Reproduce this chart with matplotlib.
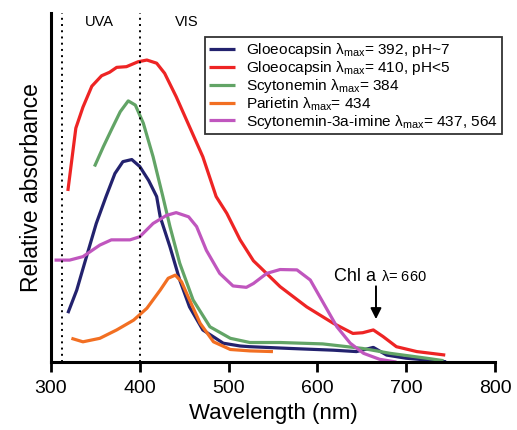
import matplotlib
matplotlib.use("Agg")
import matplotlib.pyplot as plt

plt.rcParams['font.family'] = ['Liberation Sans', 'DejaVu Sans']
plt.rcParams['mathtext.fontset'] = 'custom'
plt.rcParams['mathtext.rm'] = 'Liberation Sans'
plt.rcParams['mathtext.it'] = 'Liberation Sans'

# ── Spectra (relative absorbance, 0-100) ──
glo7_nm = [319, 329, 340, 351, 362, 372, 381, 391, 400, 410, 419, 423, 434, 445,
           456, 471, 494, 513, 524, 569, 618, 644, 663, 678, 700, 745]
glo7_abs = [14, 20.6, 30.2, 39.7, 47.4, 54, 57.4, 58, 56, 52, 47.4, 41.6, 33, 23.5,
            15.8, 9.2, 5.4, 4.6, 4.4, 3.9, 3.4, 3.0, 4.2, 2.0, 1.1, 0.1]

glo5_nm = [319, 328, 336, 346, 357, 366, 374, 385, 398, 408, 419, 428, 441, 456,
           471, 486, 498, 513, 528, 535, 558, 588, 618, 640, 651, 663, 674, 689,
           712, 744]
glo5_abs = [49, 67, 73, 79, 82, 83, 84.4, 84.6, 86, 86.5, 85.6, 82.7, 76, 67.4,
            58.8, 47.4, 42.6, 35, 29, 27.3, 21.6, 15.8, 11.1, 8.2, 8.4, 9.2, 7.3, 4.4,
            3.0, 2.0]

scy_nm = [349, 359, 368, 378, 387, 395, 404, 415, 426, 434, 445, 460, 479, 502,
          524, 558, 606, 651, 682, 723, 742]
scy_abs = [56, 61.7, 66.5, 71.7, 74.8, 73.6, 68.4, 58.8, 47.4, 38.8, 28.3, 17.8,
           10.1, 6.8, 5.6, 5.6, 5.2, 3.9, 2.5, 1.1, 0.4]

par_nm = [323, 336, 355, 374, 393, 408, 423, 432, 440, 447, 456, 468, 483, 502,
          524, 550]
par_abs = [6.8, 5.8, 6.8, 9.2, 12, 15.4, 20.6, 24, 24.9, 23, 17.8, 11.1, 5.8, 3.6,
           3.2, 3.0]

imi_nm = [304, 321, 336, 355, 368, 389, 400, 415, 430, 441, 455, 464, 475, 490,
          505, 520, 528, 543, 558, 577, 592, 607, 622, 637, 652, 670, 689]
imi_abs = [29.2, 29.2, 30.2, 33.5, 35, 35, 35.9, 39.7, 42, 42.8, 41.6, 38.8, 32,
           25.4, 21.8, 21.4, 22.5, 25.4, 26.5, 26.4, 23.5, 16.8, 10.1, 5.4, 2.5,
           0.8, 0.0]

series = [
    (glo7_nm, glo7_abs, "#23226e", r"Gloeocapsin $\lambda_{max}$= 392, pH~7"),
    (glo5_nm, glo5_abs, "#ee2424", r"Gloeocapsin $\lambda_{max}$= 410, pH<5"),
    (scy_nm, scy_abs, "#62a466", r"Scytonemin $\lambda_{max}$= 384"),
    (par_nm, par_abs, "#f26f22", r"Parietin $\lambda_{max}$= 434"),
    (imi_nm, imi_abs, "#c056be", r"Scytonemin-3a-imine $\lambda_{max}$= 437, 564"),
]

fig = plt.figure(figsize=(5.17, 4.30), dpi=100)
ax = fig.add_axes([0.0986, 0.158, 0.8588, 0.812])

for nm, ab, col, lab in series:
    ax.plot(nm, ab, color=col, linewidth=2.3, label=lab,
            solid_capstyle='butt', solid_joinstyle='round')

# límites UVA / VIS
for xv in [312, 400]:
    ax.axvline(xv, color='black', linestyle=(0, (1, 2.2)), linewidth=1.4)

ax.text(355, 97.5, "UVA", ha='center', va='center', fontsize=10.5)
ax.text(453, 97.5, "VIS", ha='center', va='center', fontsize=10.5)

ax.annotate("", xy=(666, 11.5), xytext=(666, 22.5),
            arrowprops=dict(arrowstyle='-|>', color='black', lw=1.4,
                            mutation_scale=16))
ax.text(672, 24.5, "Chl a ", ha='right', va='center', fontsize=13)
ax.text(672, 24.5, r"$\lambda$= 660", ha='left', va='center', fontsize=10.5)

ax.set_xlim(300, 800)
ax.set_ylim(0, 100)
ax.set_xticks([300, 400, 500, 600, 700, 800])
ax.set_yticks([])
ax.tick_params(axis='x', direction='out', length=7, width=2, labelsize=14, pad=6)
for s in ['top', 'right']:
    ax.spines[s].set_visible(False)
for s in ['left', 'bottom']:
    ax.spines[s].set_linewidth(2.2)

ax.set_xlabel("Wavelength (nm)", fontsize=16, labelpad=4)
ax.set_ylabel("Relative absorbance", fontsize=16.5, labelpad=6)

leg = ax.legend(loc='upper left', bbox_to_anchor=(0.347, 0.93), fontsize=11.1,
                frameon=True, fancybox=False, edgecolor='black',
                handlelength=1.7, handletextpad=0.7, labelspacing=0.0,
                borderpad=0.25, borderaxespad=0)
leg.get_frame().set_linewidth(1.3)

fig.savefig("out.png", dpi=100)
